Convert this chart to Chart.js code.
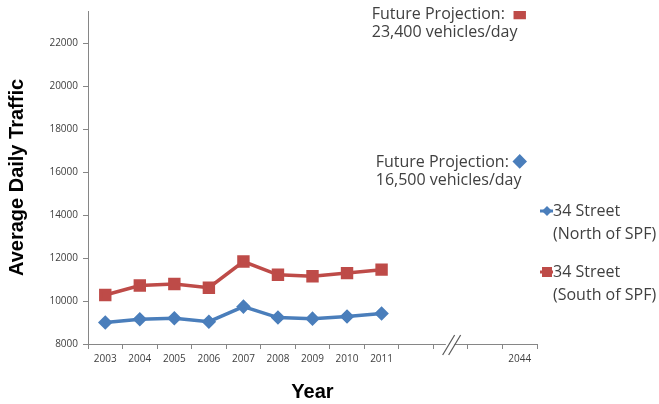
<!DOCTYPE html>
<html>
<head>
<meta charset="utf-8">
<script src="https://cdn.jsdelivr.net/npm/chart.js@4.4.1/dist/chart.umd.min.js"></script>
<style>
  html, body { margin:0; padding:0; background:#fff; }
  #wrap { width:659px; height:404px; position:relative; }
</style>
</head>
<body>
<div id="wrap"><canvas id="traffic" width="659" height="404"></canvas></div>
<script>
// categories (blank slots stand for the axis break before 2044)
const years = ['2003','2004','2005','2006','2007','2008','2009','2010','2011','','','','2044'];
const north = [9000, 9150, 9200, 9040, 9740, 9230, 9180, 9280, 9420, null, null, null, 16500];
const south = [10280, 10720, 10790, 10620, 11840, 11220, 11150, 11300, 11460, null, null, null, 23400];
const yTicks = [8000, 10000, 12000, 14000, 16000, 18000, 20000, 22000];
const seriesNames = [['34 Street', '(North of SPF)'], ['34 Street', '(South of SPF)']];
const projNotes = [['Future Projection:', '16,500 vehicles/day'], ['Future Projection:', '23,400 vehicles/day']];

const BLUE = '#4a7ebb', RED = '#be4b48', AXIS = '#868686', TXT = '#404040';
const FONT = "'Open Sans', 'Liberation Sans', sans-serif";

// last point of each series = projection, drawn alone with its note
const extras = {
  id:'extras',
  afterDraw(chart){
    const ctx = chart.ctx, x = chart.scales.x, y = chart.scales.y;
    const last = years.length - 1;
    ctx.save();
    // axis break "//"
    const bx = x.getPixelForValue(10) + 2, by = y.bottom;
    ctx.strokeStyle = '#fff'; ctx.lineWidth = 5;
    ctx.beginPath(); ctx.moveTo(bx - 6, by + 2); ctx.lineTo(bx + 1, by - 2); ctx.stroke();
    ctx.strokeStyle = '#595959'; ctx.lineWidth = 1.2;
    [-4, 2].forEach(d => {
      ctx.beginPath(); ctx.moveTo(bx + d - 6, by + 11); ctx.lineTo(bx + d + 6, by - 9); ctx.stroke();
    });
    // projection notes
    ctx.fillStyle = TXT; ctx.font = '16px ' + FONT; ctx.textBaseline = 'middle'; ctx.textAlign = 'left';
    [[north, 144], [south, 148]].forEach(([arr, off], i) => {
      const px = x.getPixelForValue(last), py = y.getPixelForValue(arr[last]);
      ctx.fillText(projNotes[i][0], px - off, py + 1);
      ctx.fillText(projNotes[i][1], px - off, py + 19);
    });
    // legend
    const lx = 540, rows = [211, 272];
    chart.data.datasets.forEach((ds, i) => {
      const ly = rows[i];
      ctx.strokeStyle = ds.borderColor; ctx.lineWidth = 3;
      ctx.beginPath(); ctx.moveTo(lx, ly); ctx.lineTo(lx + 13, ly); ctx.stroke();
      ctx.fillStyle = ds.borderColor;
      if (ds.pointStyle === 'rect') {
        ctx.fillRect(lx + 2, ly - 5, 10, 10);
      } else {
        ctx.beginPath(); ctx.moveTo(lx + 7, ly - 5); ctx.lineTo(lx + 12, ly); ctx.lineTo(lx + 7, ly + 5); ctx.lineTo(lx + 2, ly); ctx.closePath(); ctx.fill();
      }
      ctx.fillStyle = TXT; ctx.font = '16px ' + FONT;
      ctx.fillText(seriesNames[i][0], lx + 13, ly);
      ctx.fillText(seriesNames[i][1], lx + 13, ly + 23);
    });
    ctx.restore();
  }
};

new Chart(document.getElementById('traffic'), {
  type:'line',
  data:{
    labels: years,
    datasets:[
      { label:'34 Street (North of SPF)', data:north, borderColor:BLUE, backgroundColor:BLUE,
        borderWidth:3.5, pointStyle:'rectRot', pointRadius:4.8, spanGaps:false, tension:0 },
      { label:'34 Street (South of SPF)', data:south, borderColor:RED, backgroundColor:RED,
        borderWidth:3.5, pointStyle:'rect', pointRadius:6.3, spanGaps:false, tension:0 }
    ]
  },
  options:{
    responsive:false, animation:false,
    layout:{ padding:{ top:11, right:122 } },
    plugins:{ legend:{ display:false }, tooltip:{ enabled:false } },
    scales:{
      x:{
        offset:true,
        grid:{ offset:true, drawOnChartArea:false, tickLength:5, color:AXIS },
        border:{ color:AXIS, width:1 },
        ticks:{ color:TXT, font:{ family:FONT, size:10 }, maxRotation:0, autoSkip:false, padding:4 },
        title:{ display:true, text:'Year', color:'#000', font:{ family:"'Liberation Sans', sans-serif", size:20, weight:'bold' }, padding:{ top:12, bottom:0 } },
        afterFit: s => { s.height = 60; }
      },
      y:{
        min:8000, max:23500,
        afterBuildTicks: s => { s.ticks = yTicks.map(v => ({ value:v })); },
        grid:{ drawOnChartArea:false, tickLength:5, color:AXIS },
        border:{ color:AXIS, width:1 },
        ticks:{ color:TXT, font:{ family:FONT, size:10 }, padding:5, callback: v => String(v) },
        title:{ display:true, text:'Average Daily Traffic', color:'#000', font:{ family:"'Liberation Sans', sans-serif", size:20, weight:'bold' }, padding:{ top:5, bottom:0 } },
        afterFit: s => { s.width = 88; }
      }
    }
  },
  plugins:[extras]
});
</script>
</body>
</html>
